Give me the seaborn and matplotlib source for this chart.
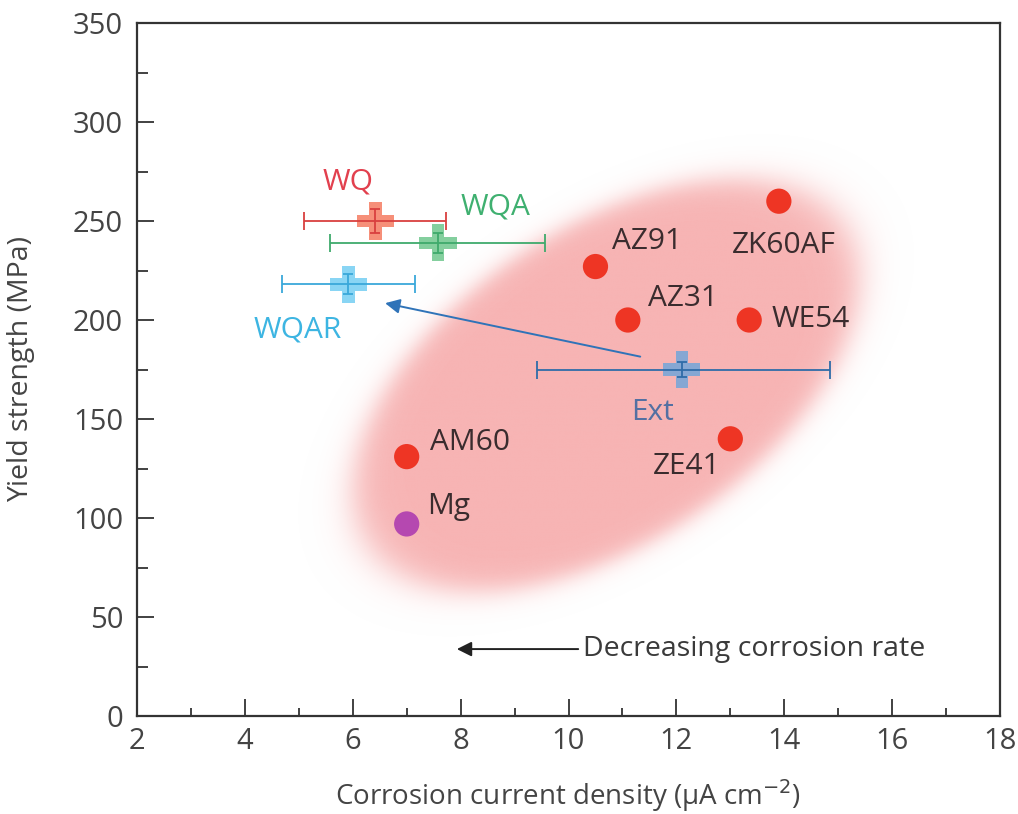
import numpy as np
import matplotlib
matplotlib.use('Agg')
import matplotlib.pyplot as plt
import seaborn as sns
import pandas as pd

# ---------------- data ----------------
alloys = ['Mg', 'AM60', 'AZ91', 'AZ31', 'WE54', 'ZE41', 'ZK60AF']
alloy_x = [7.0, 7.0, 10.5, 11.1, 13.35, 13.0, 13.9]
alloy_y = [97, 131, 227, 200, 200, 140, 260]

treat = ['WQ', 'WQA', 'WQAR', 'Ext']
treat_x = [6.42, 7.58, 5.92, 12.1]
treat_y = [250, 239, 218, 175]
treat_xlo = [5.1, 5.58, 4.69, 9.42]
treat_xhi = [7.72, 9.57, 7.16, 14.84]
treat_yerr = [6, 5, 5, 4]

x_ticks = [2, 4, 6, 8, 10, 12, 14, 16, 18]
y_ticks = [0, 50, 100, 150, 200, 250, 300, 350]

# ---------------- style ----------------
sns.set_theme(style='white')
plt.rcParams['font.family'] = ['Open Sans', 'DejaVu Sans']

W, H = 1018, 814
fig = plt.figure(figsize=(W / 100, H / 100), dpi=100)
L, R, T, B = 137, 1000, 23, 716
ax = fig.add_axes([L / W, 1 - B / H, (R - L) / W, (B - T) / H])
ax.set_xlim(2, 18)
ax.set_ylim(0, 350)

# ---------------- shaded ellipse ----------------
sx = (R - L) / 16.0      # px per x unit
sy = (B - T) / 350.0     # px per y unit
ecx, ecy = 10.7, 167.0   # centre (data)
ea, eb, eth = 328.0, 180.0, np.deg2rad(34)
gx = np.linspace(2, 18, 900)
gy = np.linspace(0, 350, 800)
GX, GY = np.meshgrid(gx, gy)
dx = (GX - ecx) * sx
dy = (GY - ecy) * sy
u = dx * np.cos(eth) + dy * np.sin(eth)
v = -dx * np.sin(eth) + dy * np.cos(eth)
r = np.sqrt((u / ea) ** 2 + (v / eb) ** 2)
alpha = 0.5 * (1 - np.tanh((r - 0.87) / 0.07))
rgba = np.zeros(GX.shape + (4,))
rgba[..., 0] = 247 / 255
rgba[..., 1] = 180 / 255
rgba[..., 2] = 180 / 255
rgba[..., 3] = alpha
ax.imshow(rgba, extent=[2, 18, 0, 350], origin='lower', aspect='auto',
          zorder=0, interpolation='bilinear')

# ---------------- alloy points ----------------
df = pd.DataFrame({'x': alloy_x, 'y': alloy_y, 'name': alloys})
pal = {n: ('#B548B0' if n == 'Mg' else '#EE3524') for n in alloys}
sns.scatterplot(data=df, x='x', y='y', hue='name', palette=pal, s=330,
                edgecolor='none', legend=False, ax=ax, zorder=3)

alloy_lbl = {
    'Mg': (7.38, 105.6), 'AM60': (7.43, 137.9), 'AZ91': (10.81, 239.4),
    'AZ31': (11.47, 211.1), 'WE54': (13.77, 200.0), 'ZE41': (11.57, 125.8),
    'ZK60AF': (13.03, 237.4),
}
for n in alloys:
    lx, ly = alloy_lbl[n]
    ax.text(lx, ly, n, fontsize=21.5, color='#3a2c2e', ha='left', va='center',
            zorder=5)

# ---------------- treated samples ----------------
marker_cols = ['#F47358', '#66C486', '#6CCBF2', '#6AA4DC']
bar_cols = ['#D9403F', '#3FAA6C', '#3AA8DA', '#2F6CA8']
lbl_cols = ['#E2404E', '#3FB070', '#3DB5E2', '#5470A2']
tdf = pd.DataFrame({'x': treat_x, 'y': treat_y, 'name': treat})
sns.scatterplot(data=tdf, x='x', y='y', hue='name',
                palette=dict(zip(treat, marker_cols)), marker='P', s=720,
                alpha=0.8, edgecolor='none', legend=False, ax=ax, zorder=3)
for i in range(len(treat)):
    xe = [[treat_x[i] - treat_xlo[i]], [treat_xhi[i] - treat_x[i]]]
    ax.errorbar(treat_x[i], treat_y[i], xerr=xe, fmt='none',
                ecolor=bar_cols[i], elinewidth=1.3, capsize=6.5,
                capthick=1.3, zorder=4)
    ax.errorbar(treat_x[i], treat_y[i], yerr=treat_yerr[i], fmt='none',
                ecolor=bar_cols[i], elinewidth=1.3, capsize=3.5,
                capthick=1.3, zorder=4)

treat_lbl = [(5.91, 269.5), (8.64, 257.3), (4.98, 195.0), (11.55, 153.5)]
for i, n in enumerate(treat):
    ax.text(treat_lbl[i][0], treat_lbl[i][1], n, fontsize=21.5,
            color=lbl_cols[i], ha='center', va='center', zorder=5)

# arrow Ext -> WQAR
ax.annotate('', xy=(6.6, 208.5), xytext=(11.33, 181.5),
            arrowprops=dict(arrowstyle='-|>', color='#2F73B8', lw=1.4,
                            mutation_scale=22, shrinkA=0, shrinkB=0),
            zorder=4)

# decreasing corrosion rate
ax.annotate('', xy=(7.93, 33.8), xytext=(10.18, 33.8),
            arrowprops=dict(arrowstyle='-|>', color='#222222', lw=1.4,
                            mutation_scale=22, shrinkA=0, shrinkB=0),
            zorder=4)
ax.text(10.27, 33.8, 'Decreasing corrosion rate', fontsize=20.5,
        color='#3a3a3a', ha='left', va='center', zorder=5)

# ---------------- axes cosmetics ----------------
for s in ax.spines.values():
    s.set_visible(True)
    s.set_color('#333333')
    s.set_linewidth(1.6)
ax.set_xticks(x_ticks)
ax.set_yticks(y_ticks)
ax.set_xticklabels([str(t) for t in x_ticks])
ax.set_yticklabels([str(t) for t in y_ticks])
ax.xaxis.set_minor_locator(matplotlib.ticker.MultipleLocator(1))
ax.yaxis.set_minor_locator(matplotlib.ticker.MultipleLocator(25))
ax.tick_params(axis='both', which='both', direction='in', colors='#333333',
               top=False, right=False, bottom=True, left=True)
ax.tick_params(axis='both', which='major', length=12, width=1.3,
               labelsize=21, labelcolor='#444444')
ax.tick_params(axis='x', which='major', pad=8)
ax.tick_params(axis='y', which='major', pad=10)
ax.tick_params(axis='x', which='minor', length=6, width=1.3)
ax.tick_params(axis='y', which='minor', length=8, width=1.3)

ax.set_xlabel('Corrosion current density (µA cm$^{-2}$)', fontsize=20,
              color='#444444')
ax.set_ylabel('Yield strength (MPa)', fontsize=20.5, color='#444444')
ax.xaxis.set_label_coords(0.5, -0.088)
ax.yaxis.set_label_coords(-0.118, 0.5)
ax.grid(False)

fig.savefig('out.png', dpi=100)
